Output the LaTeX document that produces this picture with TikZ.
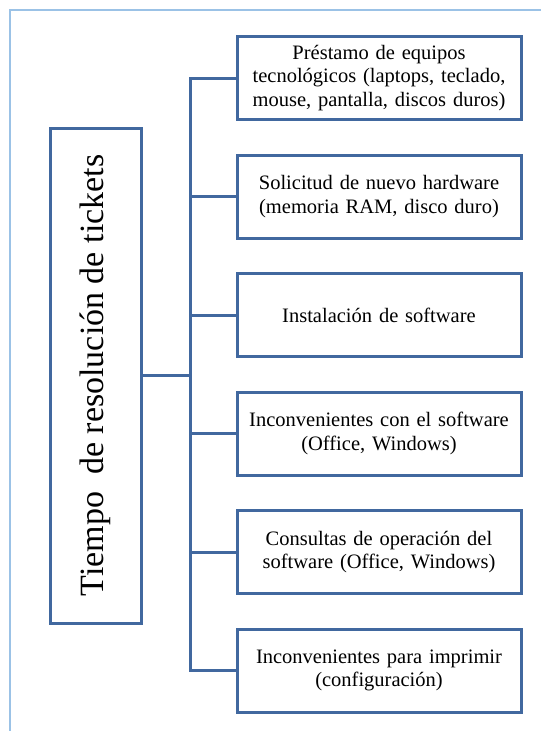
\documentclass[tikz,border=0pt]{standalone}
\usepackage{fontspec}
\setmainfont{Liberation Serif}
\usepackage{tikz}
\usetikzlibrary{positioning}
\definecolor{boxblue}{HTML}{41689F}
\definecolor{frameblue}{HTML}{9BC2E6}
\tikzset{
	topic/.style={
		% The shape:
		rectangle,minimum width=91pt,minimum height=495pt,
		% The border:
		line width=3pt,draw=boxblue,
		% The text:
		font=\fontsize{34}{40}\selectfont,
	}}
\tikzset{
	item/.style={
		% The shape:
		rectangle,minimum width=284pt,minimum height=83pt,
		% The border:
		line width=3pt,draw=boxblue,
		% The text:
		text width=270pt,align=center,inner sep=0pt,
		font=\fontsize{20.5}{23.5}\selectfont,
	}}
\tikzset{
	link/.style={line width=3pt,draw=boxblue}
	}

\begin{document}
\begin{tikzpicture}[x=1pt,y=1pt,node distance=32.5pt]
	\useasboundingbox (0,0) rectangle (541,-731);
	% page frame
	\draw[frameblue,line width=1.5pt] (10,-731) |- (541,-10);
	\node[topic] (root) at (95.5,-375.5) {\rotatebox{90}{Tiempo\ \ de resolución de tickets}};
	\node[item] (b1) at (379,-78) {Préstamo de equipos\\ tecnológicos (laptops, teclado,\\ mouse, pantalla, discos duros)};
	\node[item,below=of b1] (b2) {Solicitud de nuevo hardware\\ (memoria RAM, disco duro)};
	\node[item,below=of b2] (b3) {Instalación de software};
	\node[item,below=of b3] (b4) {Inconvenientes con el software\\ (Office, Windows)};
	\node[item,below=of b4] (b5) {Consultas de operación del\\ software (Office, Windows)};
	\node[item,below=of b5] (b6) {Inconvenientes para imprimir\\ (configuración)};
	\coordinate (trunk) at (190,-375.5);
	\draw[link] (root.east) -- (trunk);
	\draw[link] (b1.west) -| (trunk) |- (b6.west);
	\draw[link] (b2.west) -- (b2.west -| trunk);
	\draw[link] (b3.west) -- (b3.west -| trunk);
	\draw[link] (b4.west) -- (b4.west -| trunk);
	\draw[link] (b5.west) -- (b5.west -| trunk);
\end{tikzpicture}
\end{document}
